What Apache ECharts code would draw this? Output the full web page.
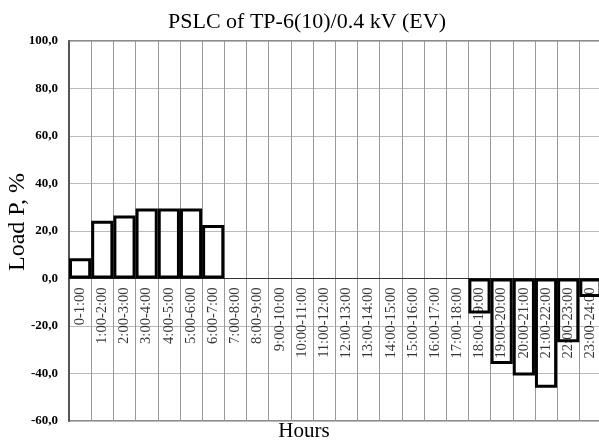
<!DOCTYPE html>
<html>
<head>
<meta charset="utf-8">
<script src="https://cdn.jsdelivr.net/npm/echarts@6/dist/echarts.min.js"></script>
<style>
html,body{margin:0;padding:0;background:#fff;}
#chart{width:599px;height:441px;}
</style>
</head>
<body>
<div id="chart"></div>
<script>
var hours = ['0-1:00','1:00-2:00','2:00-3:00','3:00-4:00','4:00-5:00','5:00-6:00','6:00-7:00','7:00-8:00','8:00-9:00','9:00-10:00','10:00-11:00','11:00-12:00','12:00-13:00','13:00-14:00','14:00-15:00','15:00-16:00','16:00-17:00','17:00-18:00','18:00-19:00','19:00-20:00','20:00-21:00','21:00-22:00','22:00-23:00','23:00-24:00'];
var loadP = [8.5, 24.3, 26.5, 29.5, 29.5, 29.5, 22.5, 0, 0, 0, 0, 0, 0, 0, 0, 0, 0, 0, -14.7, -36.0, -40.8, -46.0, -26.8, -7.8];
var titleText = 'PSLC of TP-6(10)/0.4 kV (EV)';
var yName = 'Load P, %';
var xName = 'Hours';
var serif = '"Liberation Serif", "Times New Roman", serif';

var chart = echarts.init(document.getElementById('chart'), null, {renderer: 'canvas'});
chart.setOption({
  animation: false,
  backgroundColor: '#fff',
  grid: {left: 69, top: 41, width: 532.5, height: 380, containLabel: false, outerBoundsMode: 'none',
    show: true, borderColor: '#666', borderWidth: 1.5, backgroundColor: 'transparent'},
  xAxis: {
    type: 'category',
    data: hours,
    boundaryGap: true,
    axisLine: {onZero: true, lineStyle: {color: '#333', width: 1}},
    axisTick: {show: false},
    axisLabel: {show: false},
    splitLine: {show: true, interval: 0, lineStyle: {color: '#999', width: 1}}
  },
  yAxis: {
    type: 'value',
    min: -60, max: 100, interval: 20,
    axisLine: {show: true, onZero: false, lineStyle: {color: '#555', width: 2}},
    axisTick: {show: false},
    axisLabel: {margin: 11, fontFamily: serif, fontSize: 13, fontWeight: 'bold', color: '#000',
      formatter: function (v) { return v.toFixed(1).replace('.', ','); }},
    splitLine: {show: true, lineStyle: {color: '#bbb', width: 1}}
  },
  series: [{
    type: 'scatter',
    data: hours.map(function (h) { return {name: h, value: [h, 0]}; }),
    symbolSize: 0,
    silent: true,
    z: 2,
    label: {show: true, formatter: '{b}', position: 'bottom', distance: 9, rotate: 90,
      align: 'right', verticalAlign: 'middle', fontFamily: serif, fontSize: 14.5, color: '#000'}
  }, {
    type: 'bar',
    data: loadP.map(function (v) { return v === 0 ? null : v; }),
    barWidth: '100%',
    barCategoryGap: '0%',
    itemStyle: {color: 'rgba(255,255,255,0)', borderColor: '#000', borderWidth: 3},
    z: 5
  }],
  graphic: [
    {type: 'text', x: 307, y: 22, style: {text: titleText, font: '22px ' + serif, fill: '#000', textAlign: 'center', textVerticalAlign: 'middle'}},
    {type: 'text', x: 304, y: 431, style: {text: xName, font: '21px ' + serif, fill: '#000', textAlign: 'center', textVerticalAlign: 'middle'}},
    {type: 'text', x: 18, y: 222, rotation: Math.PI / 2, style: {text: yName, font: '24px ' + serif, fill: '#000', textAlign: 'center', textVerticalAlign: 'middle'}}
  ]
});
</script>
</body>
</html>
